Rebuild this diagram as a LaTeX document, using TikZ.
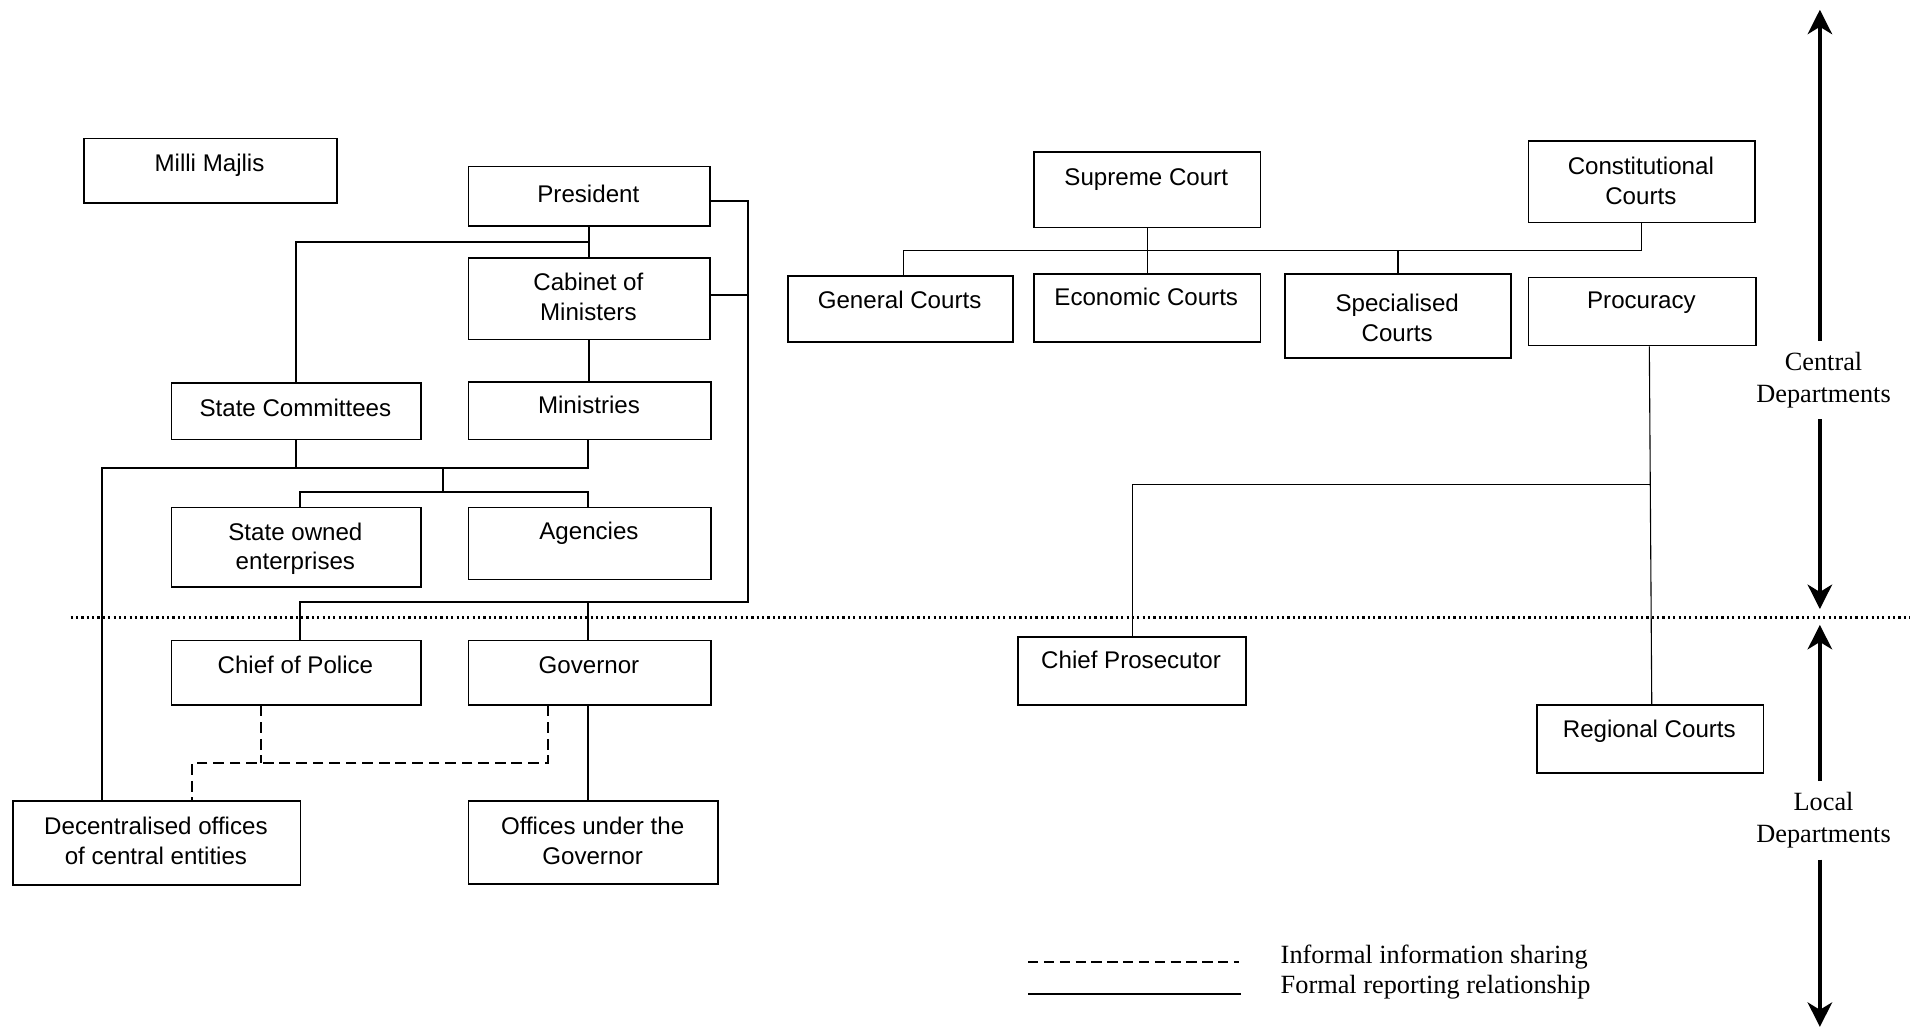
\documentclass[tikz,border=0pt]{standalone}
\usepackage{fontspec}
\setmainfont{Liberation Serif}
\setsansfont{Liberation Sans}
\usetikzlibrary{arrows.meta}

% \orgbox[text style]{name}{x1}{y1}{x2}{y2}{text y}{text}
\newcommand\orgbox[8][]{%
  \node[box, minimum width={(#5-#3)*0.5pt}, minimum height={(#6-#4)*0.5pt}] (#2) at (#3,#4) {};
  \node[txt,#1] at ({(#3+#5)/2},#7) {#8};}

\begin{document}
\begin{tikzpicture}[x=0.5pt,y=-0.5pt,
  box/.style={draw, line width=0.7pt, inner sep=0pt, anchor=north west},
  txt/.style={font=\sffamily\fontsize{9.9}{12.2}\selectfont, align=center, inner sep=0pt},
  one/.style={text height=7.1pt, text depth=0pt},
  link/.style={line width=0.75pt},
  thinlink/.style={line width=0.45pt},
  infolink/.style={line width=0.8pt, dash pattern=on 4.4pt off 2.4pt},
  divider/.style={line width=0.9pt, dash pattern=on 0.9pt off 1.3pt},
  level/.style={font=\fontsize{10.8}{13}\selectfont, align=center, inner xsep=0pt, inner ysep=4.5pt},
  legend/.style={font=\fontsize{10.8}{13}\selectfont, inner sep=0pt, anchor=base west},
  span/.style={line width=1.7pt, -{Stealth[length=10pt,width=10pt,inset=3pt]}},
]
\useasboundingbox (0,0) rectangle (1568,844);

% executive branch
\orgbox[one]{mm}{68}{113}{276}{166}{133.5}{Milli Majlis}
\orgbox[one]{pres}{384}{136}{582}{185}{159}{President}
\orgbox{cab}{384}{211}{582}{278}{244}{Cabinet of\\Ministers}
\orgbox[one]{sc}{140}{314}{345}{360}{334.5}{State Committees}
\orgbox[one]{min}{384}{313}{583}{360}{332}{Ministries}
\orgbox{soe}{140}{416}{345}{481}{450.5}{State owned\\enterprises}
\orgbox[one]{ag}{384}{416}{583}{475}{435.5}{Agencies}
\orgbox[one]{cop}{140}{525}{345}{578}{546}{Chief of Police}
\orgbox[one]{gov}{384}{525}{583}{578}{546}{Governor}
\orgbox{dec}{10}{657}{246}{726}{690.5}{Decentralised offices\\of central entities}
\orgbox{ogov}{384}{657}{589}{725}{690.5}{Offices under the\\Governor}

% judiciary
\orgbox[one]{sup}{848}{124}{1034}{186}{145}{Supreme Court}
\orgbox{con}{1254}{115}{1440}{182}{148.5}{Constitutional\\Courts}
\orgbox[one]{gen}{646}{226}{831}{280}{246.5}{General Courts}
\orgbox[one]{eco}{848}{224}{1034}{280}{244}{Economic Courts}
\orgbox{spe}{1054}{224}{1240}{293}{261}{Specialised\\Courts}
\orgbox[one]{proc}{1254}{227}{1441}{283}{246.5}{Procuracy}
\orgbox[one]{cp}{835}{522}{1022}{578}{542}{Chief Prosecutor}
\orgbox[one]{reg}{1261}{578}{1447}{634}{598.5}{Regional Courts}

% formal reporting lines, executive
\draw[link] (pres.south) -- (cab.north);
\draw[link] (pres.south |- 0,199) -- (sc.north |- 0,199) -- (sc.north);
\draw[link] (cab.south) -- (cab.south |- min.north);
\draw[link] (cab.east |- 0,242) -- (614,242);
\draw[link] (pres.east |- 0,165) -- (614,165) -- (614,494) -- (246,494) -- (cop.north -| 246,0);
\draw[link] (gov.north -| 483,0) -- (483,494);
\draw[link] (sc.south) -- (sc.south |- 0,384);
\draw[link] (min.south -| 483,0) -- (483,384) -- (84,384) -- (dec.north -| 84,0);
\draw[link] (364,384) -- (364,404);
\draw[link] (soe.north -| 246,0) -- (246,404) -- (483,404) -- (ag.north -| 483,0);
\draw[link] (gov.south -| 483,0) -- (ogov.north -| 483,0);

% informal information sharing
\draw[infolink] (cop.south -| 214,0) -- (214,626);
\draw[infolink] (gov.south -| 450,0) -- (450,626) -- (158,626) -- (dec.north -| 158,0);

% formal reporting lines, judiciary
\draw[thinlink] (sup.south) -- (sup.south |- eco.north);
\draw[thinlink] (gen.north -| 742,0) -- (742,206) -- (con.south |- 0,206) -- (con.south);
\draw[thinlink] (spe.north) -- (spe.north |- 0,206);
\draw[thinlink] (proc.south -| 1354,0) -- (reg.north -| 1356,0);
\draw[thinlink] (1355,398) -- (930,398) -- (cp.north -| 930,0);

% boundary between central and local levels
\coordinate (divl) at (58,507);
\coordinate (divr) at (1568,507);
\draw[divider] (divl) -- (divr);

% level markers
\node[level] (cen) at (1497,312) {Central\\Departments};
\node[level] (loc) at (1497,673.5) {Local\\Departments};
\coordinate (cenup) at (1494,8);
\coordinate (cendown) at (1494,500);
\coordinate (locup) at (1494,513);
\coordinate (locdown) at (1494,843);
\draw[span] (cen.north -| cenup) -- (cenup);
\draw[span] (cen.south -| cendown) -- (cendown);
\draw[span] (loc.north -| locup) -- (locup);
\draw[span] (loc.south -| locdown) -- (locdown);

% legend
\coordinate (la) at (844,790);
\coordinate (lb) at (1017,790);
\coordinate (lc) at (844,816);
\coordinate (ld) at (1019,816);
\draw[line width=0.7pt, dash pattern=on 4.2pt off 2.3pt] (la) -- (lb);
\draw[line width=1.1pt] (lc) -- (ld);
\node[legend] (linf) at (1051,791) {Informal information sharing};
\node[legend] (lfor) at (1051,816) {Formal reporting relationship};
\end{tikzpicture}
\end{document}
